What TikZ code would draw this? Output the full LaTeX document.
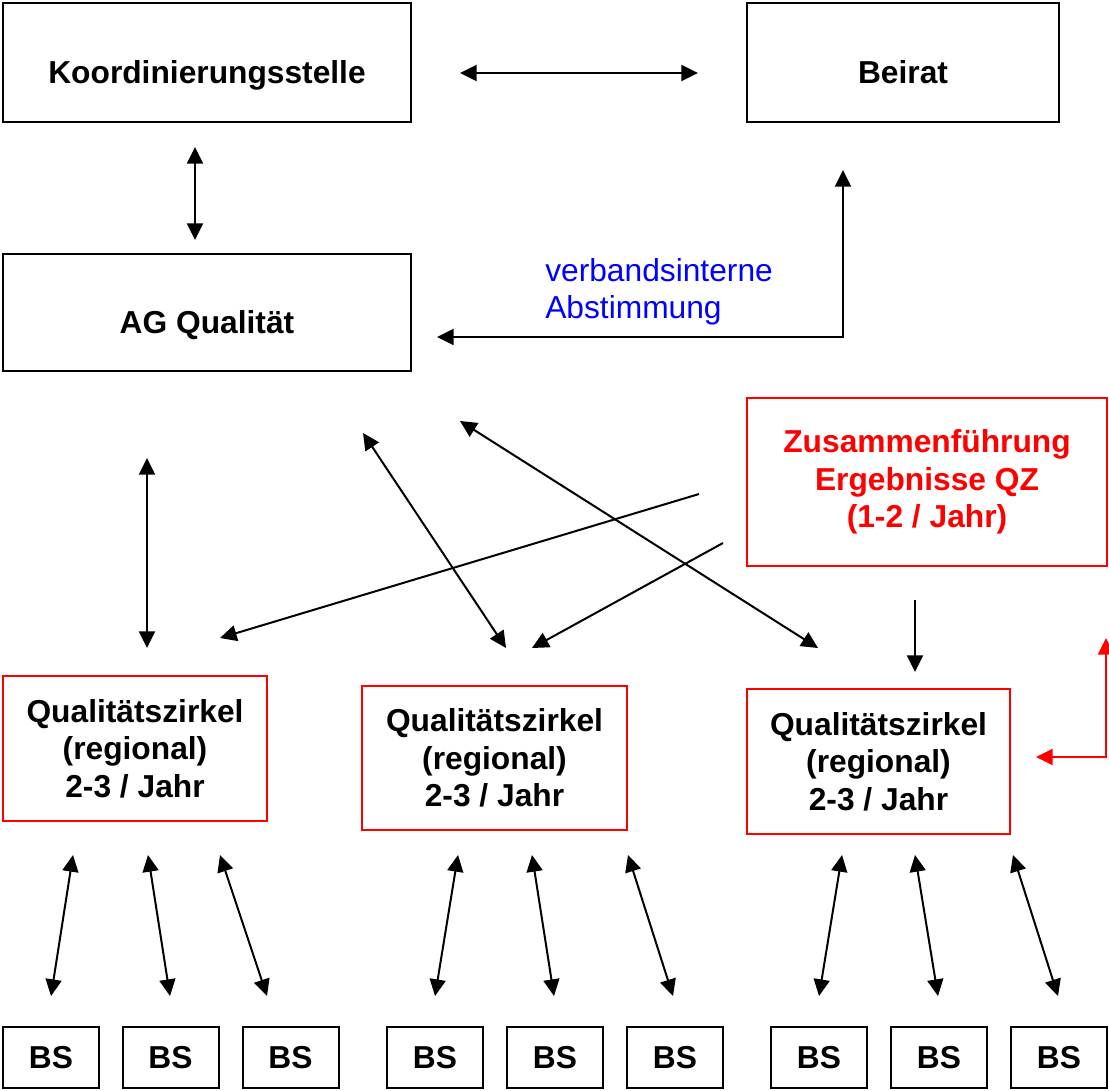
\documentclass[tikz,border=0pt]{standalone}
\usepackage{fontspec}
\setmainfont{Liberation Sans}
\usetikzlibrary{arrows.meta}

\newcommand{\QZtext}{Qualitätszirkel\\(regional)\\2-3 / Jahr}

\begin{document}
\begin{tikzpicture}[x=0.75pt, y=-0.75pt,
  box/.style={draw, line width=1.5pt, inner sep=0pt, align=center,
    font=\fontsize{23.8}{28}\selectfont\bfseries},
  onebox/.style={box, text height=32pt, text depth=0pt},
  qzbox/.style={box, draw=red, minimum width=198pt, minimum height=108.75pt},
  bsbox/.style={box, minimum width=72pt, minimum height=45.75pt},
  twoway/.style={{Triangle[length=12.5pt,width=12pt]}-{Triangle[length=12.5pt,width=12pt]}, line width=1.5pt},
  oneway/.style={-{Triangle[length=12.5pt,width=12pt]}, line width=1.5pt}]
\useasboundingbox (0,0) rectangle (1109,1090);

% top
\node[onebox, minimum width=306pt, minimum height=89.25pt] (koord) at (207,62.5) {Koordinierungsstelle};
\node[onebox, minimum width=234pt, minimum height=89.25pt] (beirat) at (903,62.5) {Beirat};
\node[onebox, minimum width=306pt, minimum height=87.75pt] (ag) at (207,312.5) {AG Qualität};
\node[box, draw=red, text=red, minimum width=270pt, minimum height=126pt] (zus) at (927,482) {Zusammenführung\\Ergebnisse QZ\\(1-2 / Jahr)};
\node[anchor=west, inner sep=0pt, align=left, text=blue,
  font=\fontsize{23.8}{28}\selectfont] (abst) at (545,292) {verbandsinterne\\Abstimmung};

% Qualitaetszirkel
\node[qzbox] (qz1) at (135,748.5) {\QZtext};
\node[qzbox, minimum width=198.75pt, minimum height=108pt] (qz2) at (494.5,758) {\QZtext};
\node[qzbox, minimum width=197.25pt] (qz3) at (878.5,761.5) {\QZtext};

% BS
\node[bsbox] (bs1) at (51,1057.5) {BS};
\node[bsbox] (bs2) at (170.5,1057.5) {BS};
\node[bsbox] (bs3) at (290.5,1057.5) {BS};
\node[bsbox] (bs4) at (435,1057.5) {BS};
\node[bsbox] (bs5) at (555,1057.5) {BS};
\node[bsbox] (bs6) at (675,1057.5) {BS};
\node[bsbox] (bs7) at (819,1057.5) {BS};
\node[bsbox] (bs8) at (939,1057.5) {BS};
\node[bsbox] (bs9) at (1059,1057.5) {BS};

% arrow ends
\coordinate (kb-a) at (460,73);   \coordinate (kb-b) at (698,73);
\coordinate (ka-a) at (195,147);  \coordinate (ka-b) at (195,240);
\coordinate (ba-a) at (843,170);  \coordinate (ba-b) at (437,337);
\coordinate (aq-a) at (147,458);  \coordinate (aq-b) at (147,648);
\coordinate (x1-a) at (363,433);  \coordinate (x1-b) at (506,648);
\coordinate (x2-a) at (460,421);  \coordinate (x2-b) at (818,648);
\coordinate (z1-a) at (699,494);  \coordinate (z1-b) at (220,638);
\coordinate (z2-a) at (723,543);  \coordinate (z2-b) at (532,648);
\coordinate (z3-a) at (915,600);  \coordinate (z3-b) at (915,672);
\coordinate (fb-a) at (1106,638); \coordinate (fb-b) at (1036,757);

\draw[twoway] (kb-a) -- (kb-b);
\draw[twoway] (ka-a) -- (ka-b);
\draw[twoway] (ba-a) |- (ba-b);
\draw[twoway] (aq-a) -- (aq-b);
\draw[twoway] (x1-a) -- (x1-b);
\draw[twoway] (x2-a) -- (x2-b);
\draw[oneway] (z1-a) -- (z1-b);
\draw[oneway] (z2-a) -- (z2-b);
\draw[oneway] (z3-a) -- (z3-b);
\draw[twoway, red] (fb-a) |- (fb-b);

% QZ -- BS
\coordinate (b1-a) at (73,855);   \coordinate (b1-b) at (51,996);
\coordinate (b2-a) at (148,855);  \coordinate (b2-b) at (170,996);
\coordinate (b3-a) at (220,855);  \coordinate (b3-b) at (267,996);
\coordinate (b4-a) at (458,855);  \coordinate (b4-b) at (435,996);
\coordinate (b5-a) at (532,855);  \coordinate (b5-b) at (554,996);
\coordinate (b6-a) at (628,855);  \coordinate (b6-b) at (673,996);
\coordinate (b7-a) at (842,855);  \coordinate (b7-b) at (819,996);
\coordinate (b8-a) at (915,855);  \coordinate (b8-b) at (938,996);
\coordinate (b9-a) at (1013,855); \coordinate (b9-b) at (1058,996);
\draw[twoway] (b1-a) -- (b1-b);
\draw[twoway] (b2-a) -- (b2-b);
\draw[twoway] (b3-a) -- (b3-b);
\draw[twoway] (b4-a) -- (b4-b);
\draw[twoway] (b5-a) -- (b5-b);
\draw[twoway] (b6-a) -- (b6-b);
\draw[twoway] (b7-a) -- (b7-b);
\draw[twoway] (b8-a) -- (b8-b);
\draw[twoway] (b9-a) -- (b9-b);
\end{tikzpicture}
\end{document}
